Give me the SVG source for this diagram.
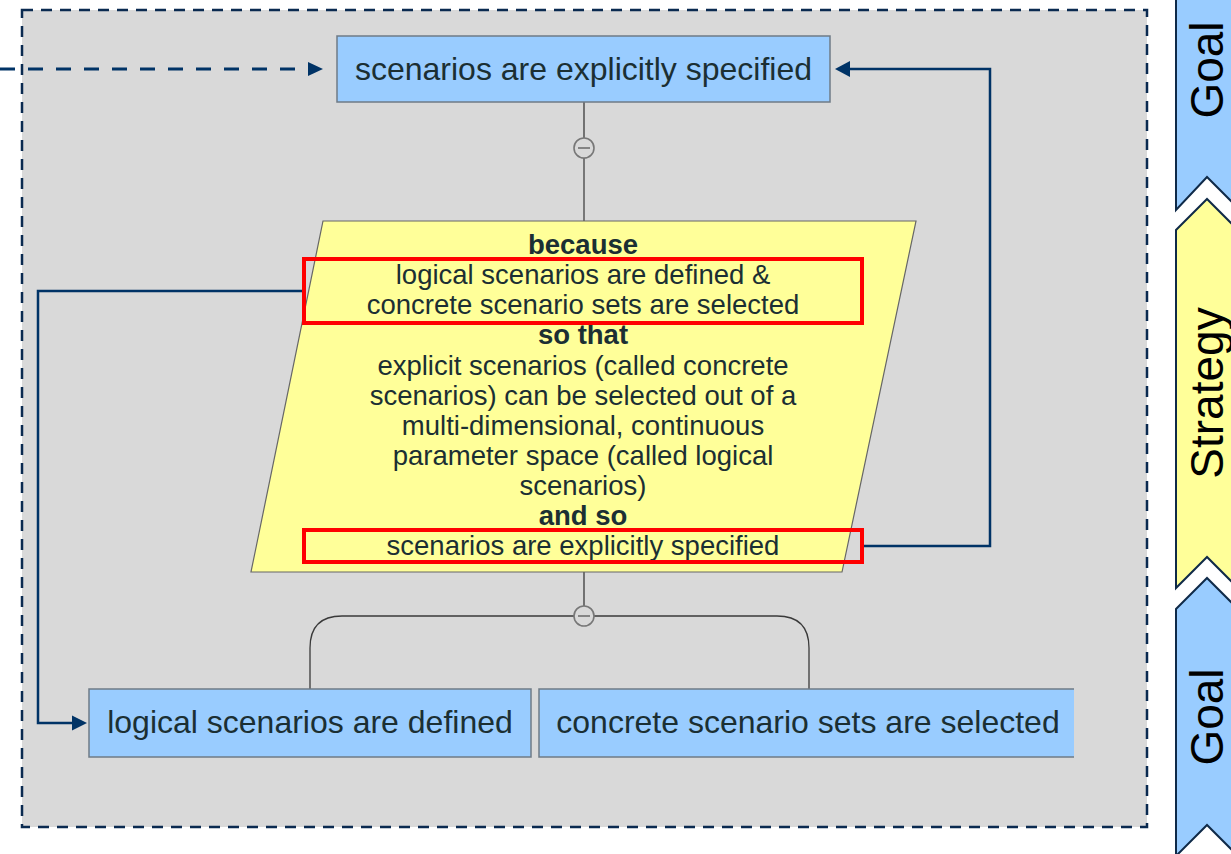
<svg xmlns="http://www.w3.org/2000/svg" width="1231" height="854" viewBox="0 0 1231 854">
<defs>
<style>
.goal{fill:#99ccff;stroke:#6f7b86;stroke-width:1.5}
.t{font-family:"Liberation Sans",Arial,sans-serif;fill:#1b2f33}
.big{font-size:32px}
.mid{font-size:27.5px}
.b{font-weight:bold}
.conn{fill:none;stroke:#003366;stroke-width:2.5}
.tree{fill:none;stroke:#3a3a3a;stroke-width:1.3}
.knob{fill:#d9d9d9;stroke:#777;stroke-width:1.6}
.red{fill:none;stroke:#ff0000;stroke-width:4}
.chev{stroke:#0f2a48;stroke-width:2}
.lab{font-family:"Liberation Sans",Arial,sans-serif;font-size:46px;fill:#000}
</style>
<marker id="ah" viewBox="0 0 10 10" refX="0" refY="5" markerWidth="16" markerHeight="16" markerUnits="userSpaceOnUse" orient="auto">
<path d="M0,0 L10,5 L0,10 z" fill="#003366"/>
</marker>
</defs>

<g id="container">
<rect x="22" y="10" width="1125" height="817" fill="#d9d9d9" stroke="#0a2a50" stroke-width="2.5" stroke-dasharray="11,8"/>
</g>

<g id="lanes">
<polygon class="chev" fill="#99ccff" points="1176,-5 1240,-5 1240,210 1207,177 1176,210"/>
<polygon class="chev" fill="#ffff99" points="1176,230 1207,199 1240,232 1240,590 1207,557 1176,588"/>
<polygon class="chev" fill="#99ccff" points="1176,609 1207,578 1240,611 1240,858 1207,825 1176,856"/>
<text class="lab" text-anchor="middle" transform="translate(1223,70) rotate(-90)">Goal</text>
<text class="lab" text-anchor="middle" transform="translate(1223,393) rotate(-90)">Strategy</text>
<text class="lab" text-anchor="middle" transform="translate(1223,717) rotate(-90)">Goal</text>
</g>

<g id="connectors">
<path d="M0,69 H308" fill="none" stroke="#003366" stroke-width="3" stroke-dasharray="15,13"/>
<path d="M308,62 L323,69 L308,76 z" fill="#003366"/>
<path class="conn" d="M863,546 H990 V69 H850"/>
<path d="M850,61 L835,69 L850,77 z" fill="#003366"/>
<path class="conn" d="M302,291 H38 V723 H72"/>
<path d="M72,715.5 L87,723 L72,730.5 z" fill="#003366"/>
<path class="tree" d="M584,102 V138"/>
<path d="M584,158 V221" fill="none" stroke="#777" stroke-width="2"/>
<path class="tree" d="M584,572 V606"/>
<path class="tree" d="M310,689 V648 Q310,616 342,616 H574 M594,616 H777 Q809,616 809,648 V689"/>
<circle class="knob" cx="584" cy="148" r="10"/>
<path d="M578,148 H590" stroke="#555" stroke-width="1.3"/>
<circle class="knob" cx="584" cy="616" r="10"/>
<path d="M578,616 H590" stroke="#555" stroke-width="1.3"/>
</g>

<g id="top-goal">
<rect class="goal" x="337" y="36" width="493" height="66"/>
<text class="t big" x="583.5" y="80" text-anchor="middle">scenarios are explicitly specified</text>
</g>

<g id="strategy">
<polygon points="323,221 916,221 842,572 251,572" fill="#ffff99" stroke="#666" stroke-width="1.2"/>
<g class="t mid" text-anchor="middle">
<text class="b" x="583" y="254">because</text>
<text x="583" y="284">logical scenarios are defined &amp;</text>
<text x="583" y="314">concrete scenario sets are selected</text>
<text class="b" x="583" y="344">so that</text>
<text x="583" y="375">explicit scenarios (called concrete</text>
<text x="583" y="405">scenarios) can be selected out of a</text>
<text x="583" y="435">multi-dimensional, continuous</text>
<text x="583" y="465">parameter space (called logical</text>
<text x="583" y="495">scenarios)</text>
<text class="b" x="583" y="525">and so</text>
<text x="583" y="555">scenarios are explicitly specified</text>
</g>
<rect class="red" x="304" y="259" width="558" height="64"/>
<rect class="red" x="304" y="530" width="558" height="32"/>
</g>

<g id="goal-logical">
<rect class="goal" x="89" y="689" width="442" height="68"/>
<text class="t big" x="310" y="733" text-anchor="middle">logical scenarios are defined</text>
</g>

<g id="goal-concrete">
<rect x="539" y="689" width="535" height="68" fill="#99ccff"/>
<path d="M1074,689 H539 V757 H1074" fill="none" stroke="#6f7b86" stroke-width="1.5"/>
<text class="t big" x="808" y="733" text-anchor="middle">concrete scenario sets are selected</text>
</g>
</svg>
